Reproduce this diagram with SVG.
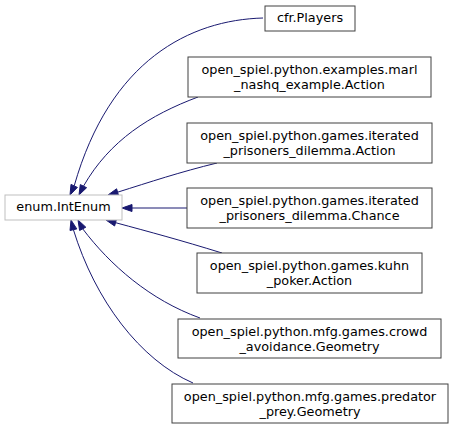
<svg xmlns="http://www.w3.org/2000/svg" width="455" height="430" viewBox="0 0 455 430">
<style>
.n rect{fill:#fff;stroke:#404040;stroke-width:1}
.ext rect{fill:#fff;stroke:#bfbfbf;stroke-width:1}
text{font-family:"DejaVu Sans",sans-serif;font-size:12.8px;text-anchor:middle;fill:#000}
.e path{fill:none;stroke:#191970;stroke-width:1}
.e polygon{fill:#191970;stroke:#191970;stroke-width:1}
</style>
<rect width="455" height="430" fill="#fff"/>
<g id="connectors" class="e">
<path d="M263,18 C190,20 110,60 74.2,185.9"/>
<polygon points="77.4,187.4 70,195 71,184.4"/>
<path d="M198,97 C150,115 110,140 83.5,186.1"/>
<polygon points="86.6,187.7 79,195 80.3,184.6"/>
<path d="M217,163 C180,172 150,182 117.6,192.2"/>
<polygon points="118.6,195.6 108,195 116.6,188.8"/>
<path d="M187,208 L132,208"/>
<polygon points="132,204.5 122,208 132,211.5"/>
<path d="M222,253 C180,240 150,232 115.6,222.7"/>
<polygon points="116.5,219.3 106,220 114.6,226"/>
<path d="M200,318 C150,300 110,265 82.7,228.8"/>
<polygon points="85.8,227.2 78,220 79.6,230.5"/>
<path d="M193,383 C140,360 95,300 73.4,229.7"/>
<polygon points="76.8,228.9 71,220 70,230.5"/>
</g>
<g id="enum_IntEnum" class="ext"><rect x="5" y="195" width="117" height="25"/><text x="63.5" y="211">enum.IntEnum</text></g>
<g id="cfr_Players" class="n"><rect x="265" y="6" width="90" height="25"/><text x="310" y="22">cfr.Players</text></g>
<g id="marl_Action" class="n"><rect x="188" y="57" width="243" height="40"/><text x="309.5" y="73.5">open_spiel.python.examples.marl<tspan x="309.5" dy="15">_nashq_example.Action</tspan></text></g>
<g id="ipd_Action" class="n"><rect x="187" y="123" width="245" height="40"/><text x="309.5" y="139.5">open_spiel.python.games.iterated<tspan x="309.5" dy="15">_prisoners_dilemma.Action</tspan></text></g>
<g id="ipd_Chance" class="n"><rect x="187" y="188" width="245" height="40"/><text x="309.5" y="204.5">open_spiel.python.games.iterated<tspan x="309.5" dy="15">_prisoners_dilemma.Chance</tspan></text></g>
<g id="kuhn_Action" class="n"><rect x="197" y="253" width="225" height="40"/><text x="309.5" y="269.5">open_spiel.python.games.kuhn<tspan x="309.5" dy="15">_poker.Action</tspan></text></g>
<g id="crowd_Geometry" class="n"><rect x="178" y="319" width="263" height="39"/><text x="309.5" y="335.5">open_spiel.python.mfg.games.crowd<tspan x="309.5" dy="15">_avoidance.Geometry</tspan></text></g>
<g id="predator_Geometry" class="n"><rect x="172" y="384" width="276" height="39"/><text x="310" y="400.5">open_spiel.python.mfg.games.predator<tspan x="310" dy="15">_prey.Geometry</tspan></text></g>
</svg>
